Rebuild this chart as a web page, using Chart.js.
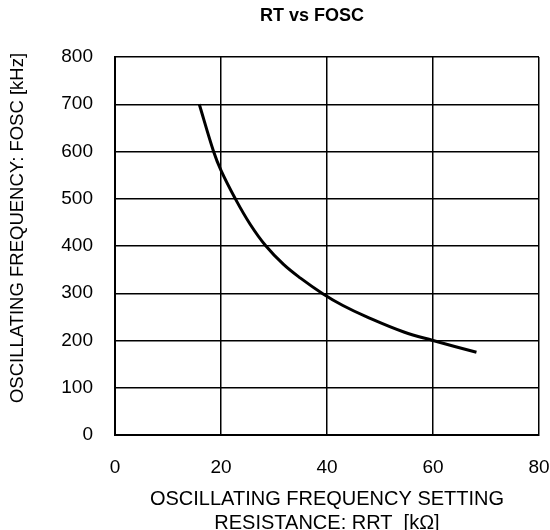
<!DOCTYPE html>
<html><head><meta charset="utf-8">
<script src="https://cdn.jsdelivr.net/npm/chart.js@4/dist/chart.umd.min.js"></script>
<style>html,body{margin:0;padding:0;background:#fff}#w{width:550px;height:530px}</style>
</head>
<body><div id="w"><canvas id="c" width="550" height="530"></canvas></div>
<script>
const chartTitle = 'RT vs FOSC';
const xTitle = ['OSCILLATING FREQUENCY SETTING', 'RESISTANCE: RRT  [kΩ]'];
const yTitle = 'OSCILLATING FREQUENCY: FOSC [kHz]';
const resistance = [15.9, 18.6, 20, 22.7, 25.5, 28.4, 31.8, 35, 39.2, 43, 47.5, 54.5, 60, 68.2];
const frequency  = [700, 600, 560, 500, 446, 401, 361, 332, 299, 274, 250, 218, 200, 175];
const xTickValues = [0, 20, 40, 60, 80];
const yTickValues = [0, 100, 200, 300, 400, 500, 600, 700, 800];

const FONT = "'Liberation Sans', Arial, sans-serif";

const textPlugin = {
  id: 'texts',
  afterDraw(chart) {
    const ctx = chart.ctx;
    ctx.save();
    ctx.fillStyle = '#000';
    ctx.textAlign = 'center';
    ctx.textBaseline = 'middle';
    ctx.font = "bold 18px " + FONT;
    ctx.fillText(chartTitle, 312, 16);
    ctx.translate(18, 228);
    ctx.rotate(-Math.PI / 2);
    ctx.font = "18.5px " + FONT;
    ctx.fillText(yTitle, 0, 0);
    ctx.restore();
  }
};

new Chart(document.getElementById('c'), {
  type: 'scatter',
  data: {
    datasets: [{
      data: resistance.map((x, i) => ({x: x, y: frequency[i]})),
      showLine: true,
      borderColor: '#000',
      backgroundColor: '#000',
      borderWidth: 3,
      pointRadius: 0,
      tension: 0.4,
      fill: false
    }]
  },
  options: {
    responsive: false,
    animation: false,
    layout: {padding: {top: 57, right: 11, left: 0, bottom: 0}},
    plugins: {legend: {display: false}, tooltip: {enabled: false}, title: {display: false}},
    scales: {
      x: {
        type: 'linear', min: 0, max: 80,
        afterBuildTicks: s => { s.ticks = xTickValues.map(v => ({value: v})); },
        afterFit: s => { s.height = 95; s.paddingLeft = 0; s.paddingRight = 0; },
        ticks: {color: '#000', font: {family: FONT, size: 19}, padding: 21, maxRotation: 0},
        grid: {color: '#000', lineWidth: 1.5, drawTicks: false},
        border: {color: '#000', width: 2},
        title: {display: true, text: xTitle, color: '#000', font: {family: FONT, size: 20, lineHeight: 1.18}, padding: {top: 0, bottom: -5}}
      },
      y: {
        type: 'linear', min: 0, max: 800,
        afterBuildTicks: s => { s.ticks = yTickValues.map(v => ({value: v})); },
        afterFit: s => { s.width = 115; s.paddingTop = 0; s.paddingBottom = 0; },
        ticks: {color: '#000', font: {family: FONT, size: 19}, padding: 22},
        grid: {color: '#000', lineWidth: 1.5, drawTicks: false},
        border: {color: '#000', width: 2}
      }
    }
  },
  plugins: [textPlugin]
});
</script>
</body></html>
